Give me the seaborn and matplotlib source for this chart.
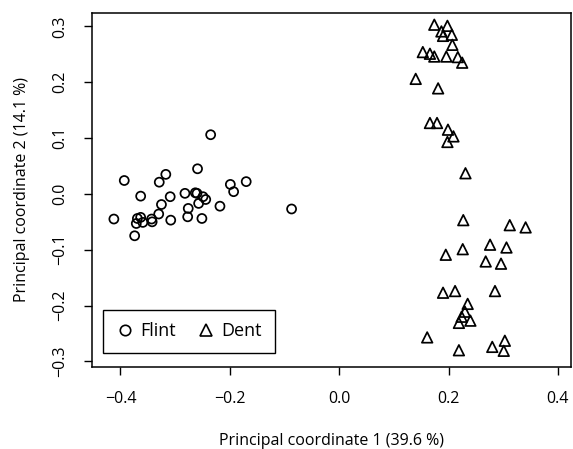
import matplotlib
matplotlib.use("Agg")
import matplotlib.pyplot as plt
from matplotlib.lines import Line2D
import seaborn as sns
import pandas as pd

flint_x = [-0.235, -0.259, -0.317, -0.329, -0.393, -0.199, -0.170, -0.193,
           -0.282, -0.263, -0.260, -0.249, -0.244, -0.257, -0.309, -0.363,
           -0.325, -0.218, -0.087, -0.276, -0.330, -0.277, -0.251, -0.308,
           -0.412, -0.369, -0.363, -0.343, -0.342, -0.371, -0.359, -0.374]
flint_y = [0.106, 0.045, 0.035, 0.021, 0.024, 0.017, 0.022, 0.004,
           0.001, 0.002, 0.001, -0.005, -0.010, -0.017, -0.005, -0.004,
           -0.019, -0.022, -0.027, -0.026, -0.036, -0.041, -0.044, -0.047,
           -0.045, -0.044, -0.042, -0.045, -0.050, -0.053, -0.051, -0.075]

dent_x = [0.174, 0.198, 0.187, 0.190, 0.206, 0.207, 0.153, 0.166, 0.174, 0.196,
          0.217, 0.225, 0.140, 0.181, 0.166, 0.179, 0.199, 0.209, 0.198, 0.231,
          0.227, 0.312, 0.341, 0.276, 0.306, 0.226, 0.195, 0.268, 0.296, 0.190,
          0.212, 0.285, 0.235, 0.230, 0.224, 0.240, 0.219, 0.161, 0.303, 0.280,
          0.219, 0.301]
dent_y = [0.303, 0.301, 0.291, 0.283, 0.285, 0.267, 0.254, 0.251, 0.246, 0.246,
          0.245, 0.235, 0.206, 0.189, 0.127, 0.127, 0.115, 0.103, 0.093, 0.037,
          -0.047, -0.056, -0.060, -0.091, -0.096, -0.099, -0.109, -0.121, -0.125, -0.177,
          -0.174, -0.174, -0.197, -0.211, -0.220, -0.227, -0.231, -0.257, -0.263, -0.274,
          -0.280, -0.281]

groups = ["Flint", "Dent"]
x_ticks = [-0.4, -0.2, 0.0, 0.2, 0.4]
y_ticks = [-0.3, -0.2, -0.1, 0.0, 0.1, 0.2, 0.3]
x_label = "Principal coordinate 1 (39.6 %)"
y_label = "Principal coordinate 2 (14.1 %)"

df = pd.DataFrame({
    "pc1": flint_x + dent_x,
    "pc2": flint_y + dent_y,
    "group": [groups[0]] * len(flint_x) + [groups[1]] * len(dent_x),
})

sns.set_style("ticks")
plt.rcParams["font.family"] = ["Open Sans", "DejaVu Sans"]
plt.rcParams["text.color"] = "black"
plt.rcParams["axes.labelcolor"] = "black"

fig = plt.figure(figsize=(5.73, 4.49), dpi=100)
ax = fig.add_axes([92 / 573, 1 - 367 / 449, (571 - 92) / 573, (367 - 13) / 449])

markers = {"Flint": "o", "Dent": "^"}
sizes = {"Flint": 42, "Dent": 58}
for g in groups:
    sub = df[df.group == g]
    sns.scatterplot(data=sub, x="pc1", y="pc2", marker=markers[g], s=sizes[g],
                    facecolor="none", edgecolor="black", linewidth=1.25,
                    legend=False, ax=ax)

ax.set_xlim(-0.452, 0.424)
ax.set_ylim(-0.310, 0.324)
ax.set_xticks(x_ticks)
ax.set_yticks(y_ticks)
ax.set_xticklabels([f"{v:.1f}".replace("-", "\u2212") for v in x_ticks])
ax.set_yticklabels([f"{v:.1f}".replace("-", "\u2212") for v in y_ticks],
                   rotation=90, va="center")
ax.tick_params(direction="out", length=6, width=1, colors="black",
               labelsize=11.5, pad=11)
for s in ax.spines.values():
    s.set_visible(True)
    s.set_linewidth(1.1)
    s.set_color("black")
ax.set_xlabel(x_label, fontsize=11.5, labelpad=19)
ax.set_ylabel(y_label, fontsize=11.5, labelpad=16)

handles = [
    Line2D([], [], marker="o", ls="none", mfc="none", mec="black", ms=7.5, mew=1.2),
    Line2D([], [], marker="^", ls="none", mfc="none", mec="black", ms=8.5, mew=1.2),
]
leg = ax.legend(handles, groups, ncol=2, loc="lower left",
                bbox_to_anchor=(11 / 479, 14 / 354), fontsize=13,
                frameon=True, fancybox=False, framealpha=1,
                borderpad=0.7, handletextpad=0.35, columnspacing=1.2,
                handlelength=1.0, borderaxespad=0)
leg.get_frame().set_edgecolor("black")
leg.get_frame().set_linewidth(1.0)

fig.savefig("out.png", dpi=100)
